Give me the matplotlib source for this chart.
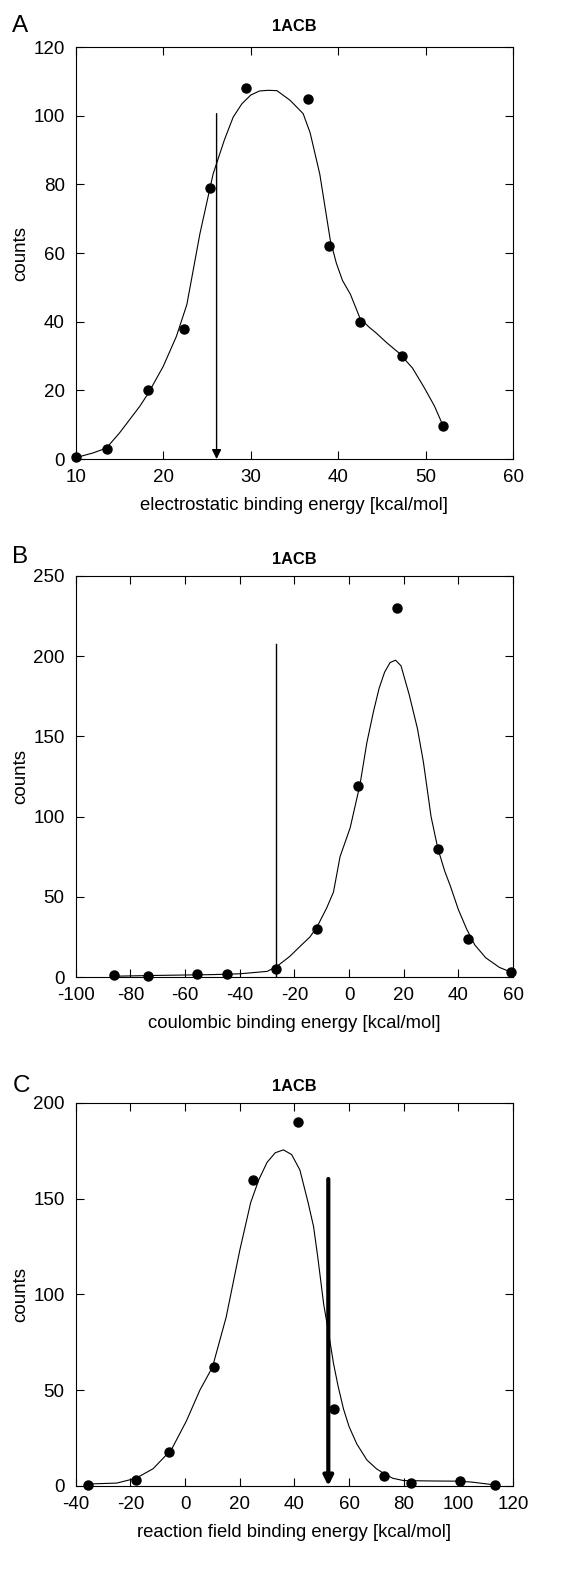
import matplotlib
matplotlib.use("Agg")
import matplotlib.pyplot as plt

plt.rcParams['font.family'] = ['Liberation Sans', 'DejaVu Sans']
plt.rcParams['axes.unicode_minus'] = False

# --- Panel A: electrostatic binding energy ---
a_x = [10, 13.6, 18.3, 22.4, 25.4, 29.5, 36.6, 39.0, 42.5, 47.3, 52.0]
a_y = [0.5, 3, 20, 38, 79, 108, 105, 62, 40, 30, 9.5]
a_fit_x = [10, 12, 13.5, 15, 17.3, 18.3, 20, 21.5, 22.7, 24.2, 25.7, 27, 28, 29, 30, 31, 32, 33, 34.5, 36,
           36.8, 37.9, 38.5, 39.1, 39.8, 40.5, 41.4, 42.5, 43.5, 44.4, 45.5, 47, 48.5, 49.8, 51, 52]
a_fit_y = [0.4, 1.8, 3.2, 7.6, 15.3, 19.2, 27, 35.7, 45, 65.7, 83, 93, 99.6, 103.5, 106, 107.2, 107.4, 107.3, 104.5, 100.6,
           95, 83, 73.4, 63.8, 57, 52, 48, 41, 38.5, 36.6, 34, 30.8, 26.5, 21, 15.5, 9.7]
a_arrow_x = 26.1
a_arrow_top = 100.6

# --- Panel B: coulombic binding energy ---
b_x = [-86, -73.7, -55.8, -44.8, -26.7, -11.8, 3.2, 17.7, 32.5, 43.7, 59.3]
b_y = [1, 0.8, 1.7, 2, 5, 30, 119, 230, 80, 24, 3]
b_fit_x = [-86, -70, -50, -40, -30, -26.5, -21.6, -18, -14.3, -11.8, -8.2, -5.7, -3.3, 0.4, 4, 6.5, 9, 11, 13, 15, 17,
           19, 22, 25, 27.2, 30, 32.5, 35, 37, 40, 43, 46, 50, 55, 59.3]
b_fit_y = [0.5, 1, 1.5, 2, 3.5, 6.5, 13, 19, 25, 31, 43, 53, 75, 93, 120, 146, 166, 180, 190, 196, 197.5,
           194, 176, 155, 134, 100, 80, 66, 57, 42, 30, 20, 12, 6, 3]
b_line_x = -26.7
b_line_top = 207.5

# --- Panel C: reaction field binding energy ---
c_x = [-35.5, -17.8, -5.8, 10.7, 25, 41.4, 54.6, 72.6, 82.7, 100.7, 113.5]
c_y = [0.5, 3, 17.6, 62, 160, 190, 40, 5, 1.7, 2.8, 0.5]
c_fit_x = [-36, -25, -18, -11.7, -5, 0.5, 5.4, 10, 15, 20, 24, 27, 30, 33, 36, 39, 42, 45, 47, 48.5, 50.7, 52.5,
           54.3, 56, 58, 60, 62.8, 66.5, 70, 72.6, 76, 80, 90, 100, 105, 113.5]
c_fit_y = [1, 1.5, 4, 9, 19, 34, 50, 62, 88, 123, 148, 160, 169, 174, 175.5, 173, 165, 148, 135.5, 120, 95, 80,
           64, 52, 40, 31, 22, 13.6, 9, 6.6, 4, 2.8, 2.6, 2.5, 2, 0.5]
c_arrow_x = 52.4
c_arrow_top = 160.3

fig = plt.figure(figsize=(5.83, 15.84), dpi=100)

panels = [
    dict(rect=[0.130, 0.7102, 0.750, 0.2601], letter='A', ty=1.051, ly=1.051, xs=a_x, ys=a_y, fx=a_fit_x, fy=a_fit_y,
         xlim=(10, 60), ylim=(0, 120), xt=range(10, 61, 10), yt=range(0, 121, 20),
         xlabel='electrostatic binding energy [kcal/mol]'),
    dict(rect=[0.130, 0.3832, 0.750, 0.2532], letter='B', ty=1.040, ly=1.047, xs=b_x, ys=b_y, fx=b_fit_x, fy=b_fit_y,
         xlim=(-100, 60), ylim=(0, 250), xt=range(-100, 61, 20), yt=range(0, 251, 50),
         xlabel='coulombic binding energy [kcal/mol]'),
    dict(rect=[0.130, 0.0619, 0.750, 0.2418], letter='C', ty=1.042, ly=1.045, xs=c_x, ys=c_y, fx=c_fit_x, fy=c_fit_y,
         xlim=(-40, 120), ylim=(0, 200), xt=range(-40, 121, 20), yt=range(0, 201, 50),
         xlabel='reaction field binding energy [kcal/mol]'),
]

axes = []
for p in panels:
    ax = fig.add_axes(p['rect'])
    ax.plot(p['fx'], p['fy'], color='black', lw=0.8)
    ax.plot(p['xs'], p['ys'], 'o', color='black', ms=6.5, clip_on=False, zorder=5)
    ax.set_xlim(*p['xlim'])
    ax.set_ylim(*p['ylim'])
    ax.set_xticks(list(p['xt']))
    ax.set_yticks(list(p['yt']))
    ax.tick_params(axis='both', which='both', direction='in', length=6, width=0.8,
                   top=True, right=True, bottom=True, left=True, labelsize=13.5)
    ax.tick_params(axis='x', pad=7)
    ax.tick_params(axis='y', pad=8)
    for s in ax.spines.values():
        s.set_linewidth(0.8)
    ax.text(0.5, p['ty'], '1ACB', transform=ax.transAxes, fontsize=11.8, fontweight='bold',
            ha='center', va='center')
    ax.set_xlabel(p['xlabel'], fontsize=13.3, labelpad=8)
    ax.set_ylabel('counts', fontsize=13.5, labelpad=3)
    ax.text(-0.145, p['ly'], p['letter'], transform=ax.transAxes, fontsize=17.5, va='center', ha='left')
    axes.append(ax)

axes[0].annotate('', xy=(a_arrow_x, 0), xytext=(a_arrow_x, a_arrow_top),
                 arrowprops=dict(arrowstyle='-|>', color='black', lw=1.0, mutation_scale=14, shrinkA=0, shrinkB=0))
axes[1].plot([b_line_x, b_line_x], [0, b_line_top], color='black', lw=1.0)
axes[2].annotate('', xy=(c_arrow_x, 0), xytext=(c_arrow_x, c_arrow_top),
                 arrowprops=dict(arrowstyle='-|>', color='black', lw=3.0, mutation_scale=14, shrinkA=0, shrinkB=0))

fig.savefig('out.png', dpi=100)
